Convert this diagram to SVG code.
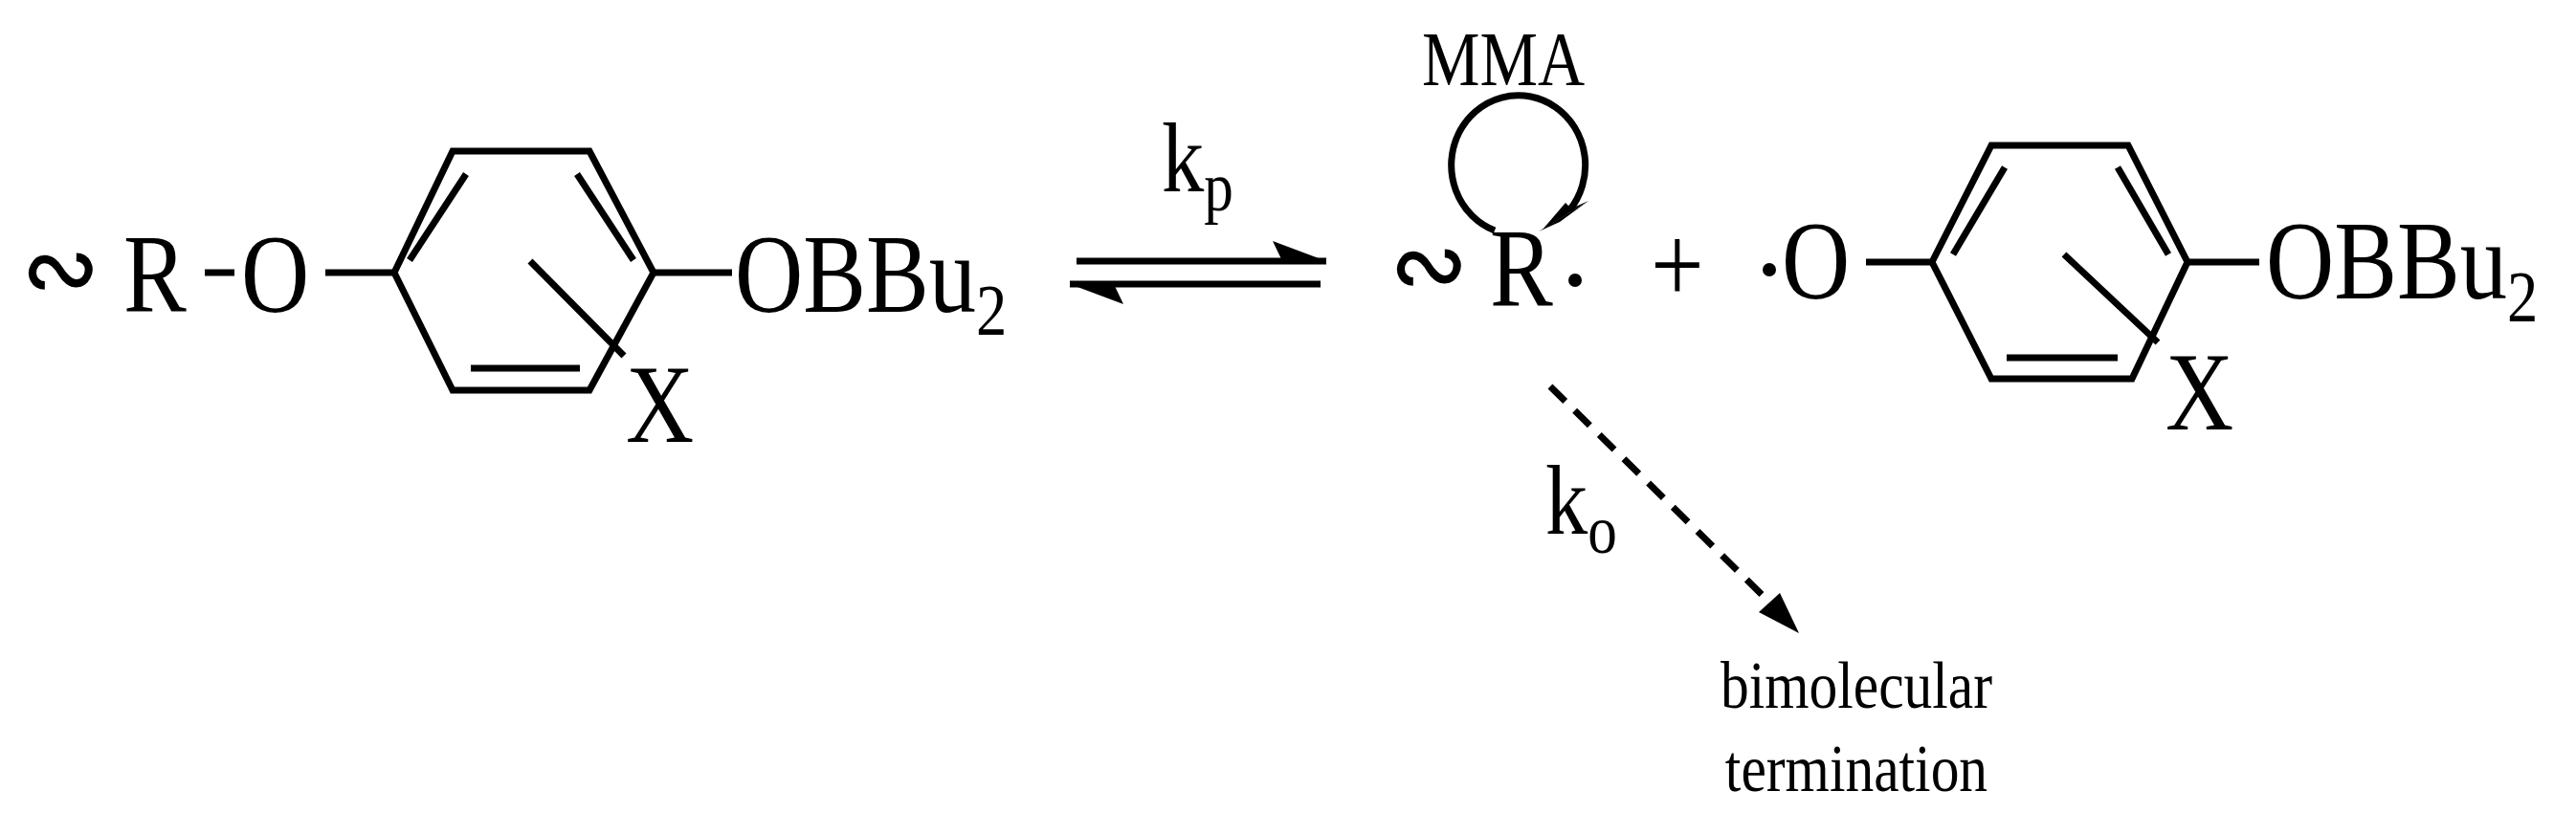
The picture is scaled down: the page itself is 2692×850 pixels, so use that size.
<svg xmlns="http://www.w3.org/2000/svg" width="2692" height="850" viewBox="0 0 2692 850">
<defs>
<style>
text{font-family:"Liberation Serif","Times New Roman",serif;fill:#000}
.b{stroke:#000;stroke-width:7;fill:none;stroke-linecap:butt}
.t{font-size:116px}
.s{font-size:76px}
</style>
</defs>
<rect width="2692" height="850" fill="#fff"/>
<g id="reactant">
<text class="t" transform="translate(22,320) scale(0.85,1)">∾</text>
<text class="t" transform="translate(129,326) scale(0.85,1)">R</text>
<line class="b" x1="214" y1="285" x2="245" y2="285" stroke-width="10"/>
<text class="t" transform="translate(252,326) scale(0.85,1)">O</text>
<line class="b" x1="340" y1="285" x2="412" y2="285"/>
<polygon class="b" points="412,285 473,158 616,158 683,285 616,408 473,408"/>
<line class="b" x1="487" y1="182" x2="428" y2="272"/>
<line class="b" x1="603" y1="182" x2="662" y2="272"/>
<line class="b" x1="492" y1="385" x2="606" y2="385"/>
<line class="b" x1="554" y1="273" x2="652" y2="372"/>
<text class="t" transform="translate(654,462) scale(0.85,1)">X</text>
<line class="b" x1="683" y1="285" x2="765" y2="285"/>
<text class="t" transform="translate(768,326) scale(0.85,1)">OBBu<tspan class="s" dy="24">2</tspan></text>
</g>
<g id="radical">
<text class="t" transform="translate(1452,316) scale(0.85,1)">∾</text>
<text class="t" transform="translate(1557,320) scale(0.85,1)">R</text>
<circle cx="1646" cy="293" r="7"/>
<text class="t" transform="translate(1725,316) scale(0.85,1)">+</text>
<text font-size="80" transform="translate(1486,89) scale(0.85,1)">MMA</text>
</g>
<g id="phenoxy">
<circle cx="1849" cy="282" r="7"/>
<text class="t" transform="translate(1862,312) scale(0.85,1)">O</text>
<line class="b" x1="1950" y1="274" x2="2019" y2="274"/>
<polygon class="b" points="2019,274 2081,152 2224,152 2286,274 2228,396 2081,396"/>
<line class="b" x1="2095" y1="175" x2="2041" y2="266"/>
<line class="b" x1="2213" y1="175" x2="2266" y2="266"/>
<line class="b" x1="2097" y1="374" x2="2213" y2="374"/>
<line class="b" x1="2157" y1="266" x2="2255" y2="358"/>
<text class="t" transform="translate(2263,449) scale(0.85,1)">X</text>
<line class="b" x1="2286" y1="274" x2="2361" y2="274"/>
<text class="t" transform="translate(2368,312) scale(0.85,1)">OBBu<tspan class="s" dy="24">2</tspan></text>
</g>
<g id="termination">
<text font-size="70" text-anchor="middle" transform="translate(1940,740) scale(0.85,1)">bimolecular</text>
<text font-size="70" text-anchor="middle" transform="translate(1940,827) scale(0.85,1)">termination</text>
</g>
<g id="connectors">
<line class="b" x1="1125" y1="273" x2="1386" y2="273"/>
<path d="M1386,273 L1330,252 L1340,273Z" fill="#000"/>
<line class="b" x1="1118" y1="297" x2="1380" y2="297"/>
<path d="M1118,297 L1174,318 L1164,297Z" fill="#000"/>
<text font-size="104" transform="translate(1214,200) scale(0.85,1)">k<tspan font-size="72" dy="20">p</tspan></text>
<path class="b" d="M1562,241 A70,73 0 1 1 1640,220" stroke-width="5"/>
<path d="M1660,210 L1608,242 L1630,232Z" fill="#000"/>
<path d="M1660,210 L1612,240 L1636,212 L1642,218Z" fill="#000"/>
<line class="b" x1="1620" y1="404" x2="1868" y2="648" stroke-width="5" stroke-dasharray="22,14"/>
<path d="M1880,662 L1838,640 L1860,620Z" fill="#000"/>
<text font-size="104" transform="translate(1615,558) scale(0.85,1)">k<tspan font-size="72" dy="20">o</tspan></text>
</g>
</svg>
